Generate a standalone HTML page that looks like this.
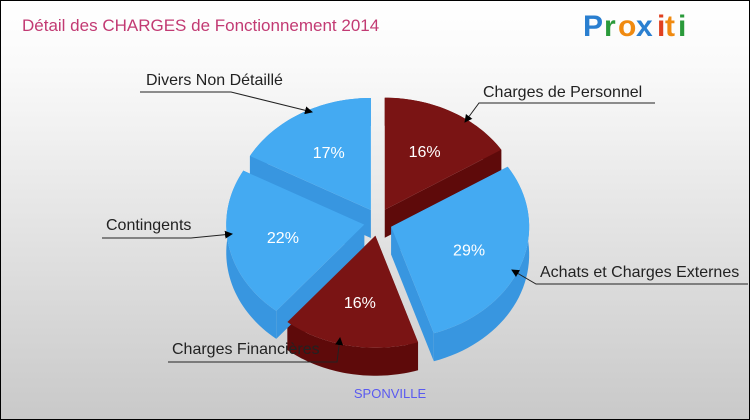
<!DOCTYPE html>
<html><head><meta charset="utf-8"><style>
body{margin:0;width:750px;height:420px;overflow:hidden;font-family:"Liberation Sans",sans-serif}
#wrap{position:absolute;left:0;top:0;width:748px;height:418px;border:1px solid #000;background:linear-gradient(#ffffff,#fafafa 15%,#c9c9c9)}
</style></head><body>
<div id="wrap">
<svg width="750" height="420" style="position:absolute;left:-1px;top:-1px">
<defs><marker id="ar" markerWidth="8" markerHeight="8" refX="7" refY="4" orient="auto"><path d="M0,0 L8,4 L0,8 z" fill="#000"/></marker></defs>
<text x="22" y="31" font-size="17" fill="#c23a73">Détail des CHARGES de Fonctionnement 2014</text>
<g font-family="Liberation Sans,sans-serif" font-weight="bold" font-size="30">
<text x="583" y="36" fill="#2a7fd0">P</text><text x="604" y="36" fill="#2a9a3a">r</text><text x="618" y="36" fill="#f08a10">o</text><text x="636" y="36" fill="#2a7fd0">x</text><text x="657" y="36" fill="#e04020">i</text><text x="665" y="36" fill="#f08a10">t</text><text x="678" y="36" fill="#2a9a3a">i</text>
</g>
<g id="pie"></g>
<g id="labels" font-size="16" fill="#222"></g>
<text x="390" y="398" font-size="13" fill="#5a5af0" text-anchor="middle">SPONVILLE</text>
</svg></div>
<script>
const categories=["Charges de Personnel","Achats et Charges Externes","Charges Financières","Contingents","Divers Non Détaillé"];
const values=[16,29,16,22,17];
const colors=["#7a1414","#44aaf2","#7a1414","#44aaf2","#44aaf2"];
const sides=["#5e0a0a","#3896e0","#5e0a0a","#3896e0","#3896e0"];
const cx=378,cy=222,rx=138,ry=112,depth=28,ex=14;
const NS="http://www.w3.org/2000/svg";
const pie=document.getElementById('pie');
const total=values.reduce((a,b)=>a+b,0);
function pt(a,dx,dy,r){r=r||1;return [cx+dx+rx*r*Math.sin(a),cy+dy-ry*r*Math.cos(a)];}
let acc=0;const slices=[];
values.forEach((v,i)=>{const a0=acc/total*2*Math.PI;acc+=v;const a1=acc/total*2*Math.PI;const m=(a0+a1)/2;
slices.push({i,a0,a1,m,dx:ex*Math.sin(m),dy:-ex*Math.cos(m)});});
function path(d,fill,name){const p=document.createElementNS(NS,'path');p.setAttribute('d',d);p.setAttribute('fill',fill);


pie.appendChild(p);}
slices.forEach(s=>{const N=40;let top=[],bot=[];
const lo=Math.max(s.a0,Math.PI/2),hi=Math.min(s.a1,3*Math.PI/2);
// radial walls
[s.a0,s.a1].forEach(a=>{const c=[cx+s.dx,cy+s.dy];const p=pt(a,s.dx,s.dy);
path(`M${c[0]},${c[1]}L${p[0]},${p[1]}L${p[0]},${p[1]+depth}L${c[0]},${c[1]+depth}Z`,sides[s.i],'slice-wall-'+s.i);});
for(let k=0;k<=N;k++){const a=s.a0+(s.a1-s.a0)*k/N;const p=pt(a,s.dx,s.dy);top.push(p);}
let d='M'+top.map(p=>p.join(',')).join('L')+'L'+top.slice().reverse().map(p=>p[0]+','+(p[1]+depth)).join('L')+'Z';
path(d,sides[s.i],'slice-side-'+s.i);});
slices.forEach(s=>{const N=40;let d=`M${cx+s.dx},${cy+s.dy}`;
for(let k=0;k<=N;k++){const a=s.a0+(s.a1-s.a0)*k/N;const p=pt(a,s.dx,s.dy);d+=`L${p[0]},${p[1]}`;}
path(d+'Z',colors[s.i],'slice-'+s.i);
const lp=pt(s.m,s.dx,s.dy,0.6);const t=document.createElementNS(NS,'text');
t.setAttribute('x',lp[0]);t.setAttribute('y',lp[1]+6);t.setAttribute('text-anchor','middle');t.setAttribute('font-size','16');t.setAttribute('fill','#fff');
t.textContent=values[s.i]+'%';


pie.appendChild(t);});
const lab=document.getElementById('labels');
const L=[[483,97,655,103,465,122,"start"],[540,277,748,284,512,270,"start"],[172,354,168,362,340,338,"start"],[106,230,102,238,232,234,"start"],[146,85,140,92,312,112,"start"]];
L.forEach((l,i)=>{const t=document.createElementNS(NS,'text');t.setAttribute('x',l[0]);t.setAttribute('y',l[1]);t.textContent=categories[i];


lab.appendChild(t);
const g=document.createElementNS(NS,'polyline');let pts;
if(i<2) pts=`${l[2]},${l[3]} ${l[0]-4},${l[3]} ${l[4]},${l[5]}`;
else pts=`${l[2]},${l[3]} ${l[0]+(i==2?165:85)},${l[3]} ${l[4]},${l[5]}`;
g.setAttribute('points',pts);g.setAttribute('fill','none');g.setAttribute('stroke','#222');g.setAttribute('marker-end','url(#ar)');


lab.appendChild(g);});
</script>
</body></html>
